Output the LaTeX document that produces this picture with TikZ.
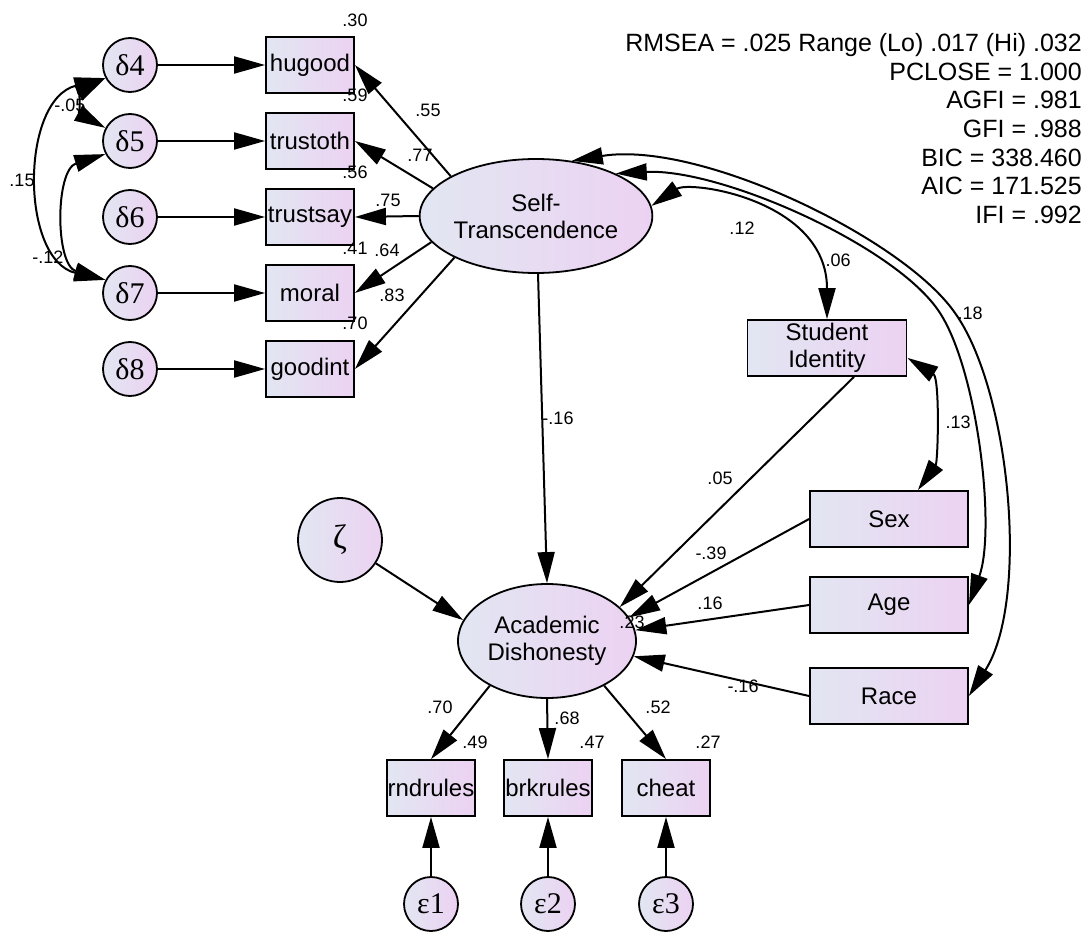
\documentclass[tikz,border=0pt]{standalone}
\usepackage{fontspec}
\setmainfont{Liberation Sans}
\newfontfamily\grkfont{Liberation Serif}
\usetikzlibrary{arrows.meta,shapes.geometric}
\definecolor{amosL}{RGB}{226,230,242}
\definecolor{amosR}{RGB}{236,210,242}
\tikzset{
  >={Triangle[length=31pt,width=17pt]},
  obsbox/.style={draw,line width=1.8pt,left color=amosL,right color=amosR,minimum width=88pt,minimum height=56pt,inner sep=0pt,align=center,font=\fontsize{24}{27}\selectfont},
  errnode/.style={circle,draw,line width=1.8pt,left color=amosL,right color=amosR,minimum size=54pt,inner sep=0pt,font=\grkfont\fontsize{30}{32}\selectfont},
  latent/.style={ellipse,draw,line width=1.8pt,left color=amosL,right color=amosR,minimum width=178pt,minimum height=114pt,inner sep=0pt,align=center,font=\fontsize{24}{27}\selectfont},
  coef/.style={inner sep=0pt,font=\fontsize{18}{20}\selectfont},
  reg/.style={->,line width=2pt},
  cov/.style={<->,line width=2pt},
}
\begin{document}
\begin{tikzpicture}[x=1pt,y=1pt]
    \useasboundingbox (0,0) rectangle (1089,-933);

    % self-transcendence indicators
    \node[errnode] (d4) at (130,-65) {δ4};
    \node[errnode] (d5) at (130,-141) {δ5};
    \node[errnode] (d6) at (130,-217) {δ6};
    \node[errnode] (d7) at (130,-293) {δ7};
    \node[errnode] (d8) at (130,-369) {δ8};
    \node[obsbox] (hugood) at (310,-65) {hugood};
    \node[obsbox] (trustoth) at (310,-141) {trustoth};
    \node[obsbox] (trustsay) at (310,-217) {trustsay};
    \node[obsbox] (moral) at (310,-293) {moral};
    \node[obsbox] (goodint) at (310,-369) {goodint};
    \node[latent] (st) at (536,-216) {Self-\\Transcendence};

    % predictors
    \node[obsbox,minimum width=159pt] (si) at (827,-348) {Student\\Identity};
    \node[obsbox,minimum width=158pt] (sex) at (889,-519) {Sex};
    \node[obsbox,minimum width=158pt] (age) at (889,-605) {Age};
    \node[obsbox,minimum width=158pt] (race) at (889,-696) {Race};

    % academic dishonesty
    \node[errnode,minimum size=84pt,font=\grkfont\fontsize{34}{36}\selectfont] (zeta) at (340,-540) {ζ};
    \node[latent] (ad) at (547,-641) {Academic\\Dishonesty};
    \node[obsbox] (rnd) at (431,-788) {rndrules};
    \node[obsbox] (brk) at (548,-788) {brkrules};
    \node[obsbox] (cheat) at (666,-788) {cheat};
    \node[errnode] (e1) at (431,-904) {ε1};
    \node[errnode] (e2) at (548,-904) {ε2};
    \node[errnode] (e3) at (666,-904) {ε3};

    % fit indices
    \node[anchor=north east,inner sep=0pt,align=right,font=\fontsize{25}{28.7}\selectfont] (fit) at (1082,-33)
        {RMSEA = .025 Range (Lo) .017 (Hi) .032\\PCLOSE = 1.000\\AGFI = .981\\GFI = .988\\BIC = 338.460\\AIC = 171.525\\IFI = .992};

    % paths
    \draw[reg] (d4) -- (hugood);
    \draw[reg] (d5) -- (trustoth);
    \draw[reg] (d6) -- (trustsay);
    \draw[reg] (d7) -- (moral);
    \draw[reg] (d8) -- (goodint);
    \draw[reg] (st.155) -- (hugood.east);
    \draw[reg] (st.165) -- (trustoth.east);
    \draw[reg] (st.180) -- (trustsay.east);
    \draw[reg] (st.194) -- (moral.east);
    \draw[reg] (st.207) -- (goodint.east);

    \draw[reg] (st.272) -- (ad.north);
    \draw[reg] (si.-47) -- (ad.25);
    \draw[reg] (sex.west) -- (ad.16);
    \draw[reg] (age.west) -- (ad.7);
    \draw[reg] (race.west) -- (ad.-10);
    \draw[reg] (zeta) -- (ad.166);

    \draw[reg] (ad.218) -- (rnd.north);
    \draw[reg] (ad.south) -- (brk.north);
    \draw[reg] (ad.-38) -- (cheat.north);
    \draw[reg] (e1) -- (rnd);
    \draw[reg] (e2) -- (brk);
    \draw[reg] (e3) -- (cheat);

    % covariances
    \draw[cov] (d4.208) .. controls (80,-92) and (80,-114) .. (d5.152);
    \draw[cov] (d4.208) .. controls (20,-100) and (20,-260) .. (d7.152);
    \draw[cov] (d5.208) .. controls (55,-170) and (55,-265) .. (d7.152);
    \draw[cov] (st.5) .. controls (690,-180) and (827,-200) .. (si.north);
    \draw[cov] (st.28) .. controls (720,-168) and (897,-246) .. (940,-313)
                      .. controls (978,-372) and (996,-530) .. (age.east);
    \draw[cov] (st.57) .. controls (700,-140) and (904,-239) .. (955,-313)
                      .. controls (1010,-390) and (1030,-600) .. (race.east);
    \draw[cov] (si.-7) .. controls (940,-378) and (938,-462) .. (sex.45);

    % estimates
    \node[coef] (r2hugood) at (355,-20) {.30};
    \node[coef] (r2trustoth) at (355,-95) {.59};
    \node[coef] (r2trustsay) at (355,-172) {.56};
    \node[coef] (r2moral) at (355,-248) {.41};
    \node[coef] (r2goodint) at (355,-323) {.70};
    \node[coef] (bhugood) at (428,-110) {.55};
    \node[coef] (btrustoth) at (420,-155) {.77};
    \node[coef] (btrustsay) at (388,-200) {.75};
    \node[coef] (bmoral) at (387,-250) {.64};
    \node[coef] (bgoodint) at (392,-295) {.83};
    \node[coef] (c45) at (70,-105) {-.05};
    \node[coef] (c47) at (22,-180) {.15};
    \node[coef] (c57) at (48,-257) {-.12};

    \node[coef] (cstsi) at (742,-228) {.12};
    \node[coef] (cstage) at (838,-260) {.06};
    \node[coef] (cstrace) at (970,-313) {.18};
    \node[coef] (csisex) at (958,-422) {.13};

    \node[coef] (bst) at (558,-418) {-.16};
    \node[coef] (bsi) at (720,-478) {.05};
    \node[coef] (bsex) at (711,-553) {-.39};
    \node[coef] (bage) at (710,-603) {.16};
    \node[coef] (brace) at (743,-686) {-.16};
    \node[coef] (r2ad) at (632,-622) {.23};

    \node[coef] (brnd) at (440,-707) {.70};
    \node[coef] (bbrk) at (567,-718) {.68};
    \node[coef] (bcheat) at (658,-707) {.52};
    \node[coef] (r2rnd) at (475,-742) {.49};
    \node[coef] (r2brk) at (592,-742) {.47};
    \node[coef] (r2cheat) at (708,-742) {.27};
\end{tikzpicture}
\end{document}
